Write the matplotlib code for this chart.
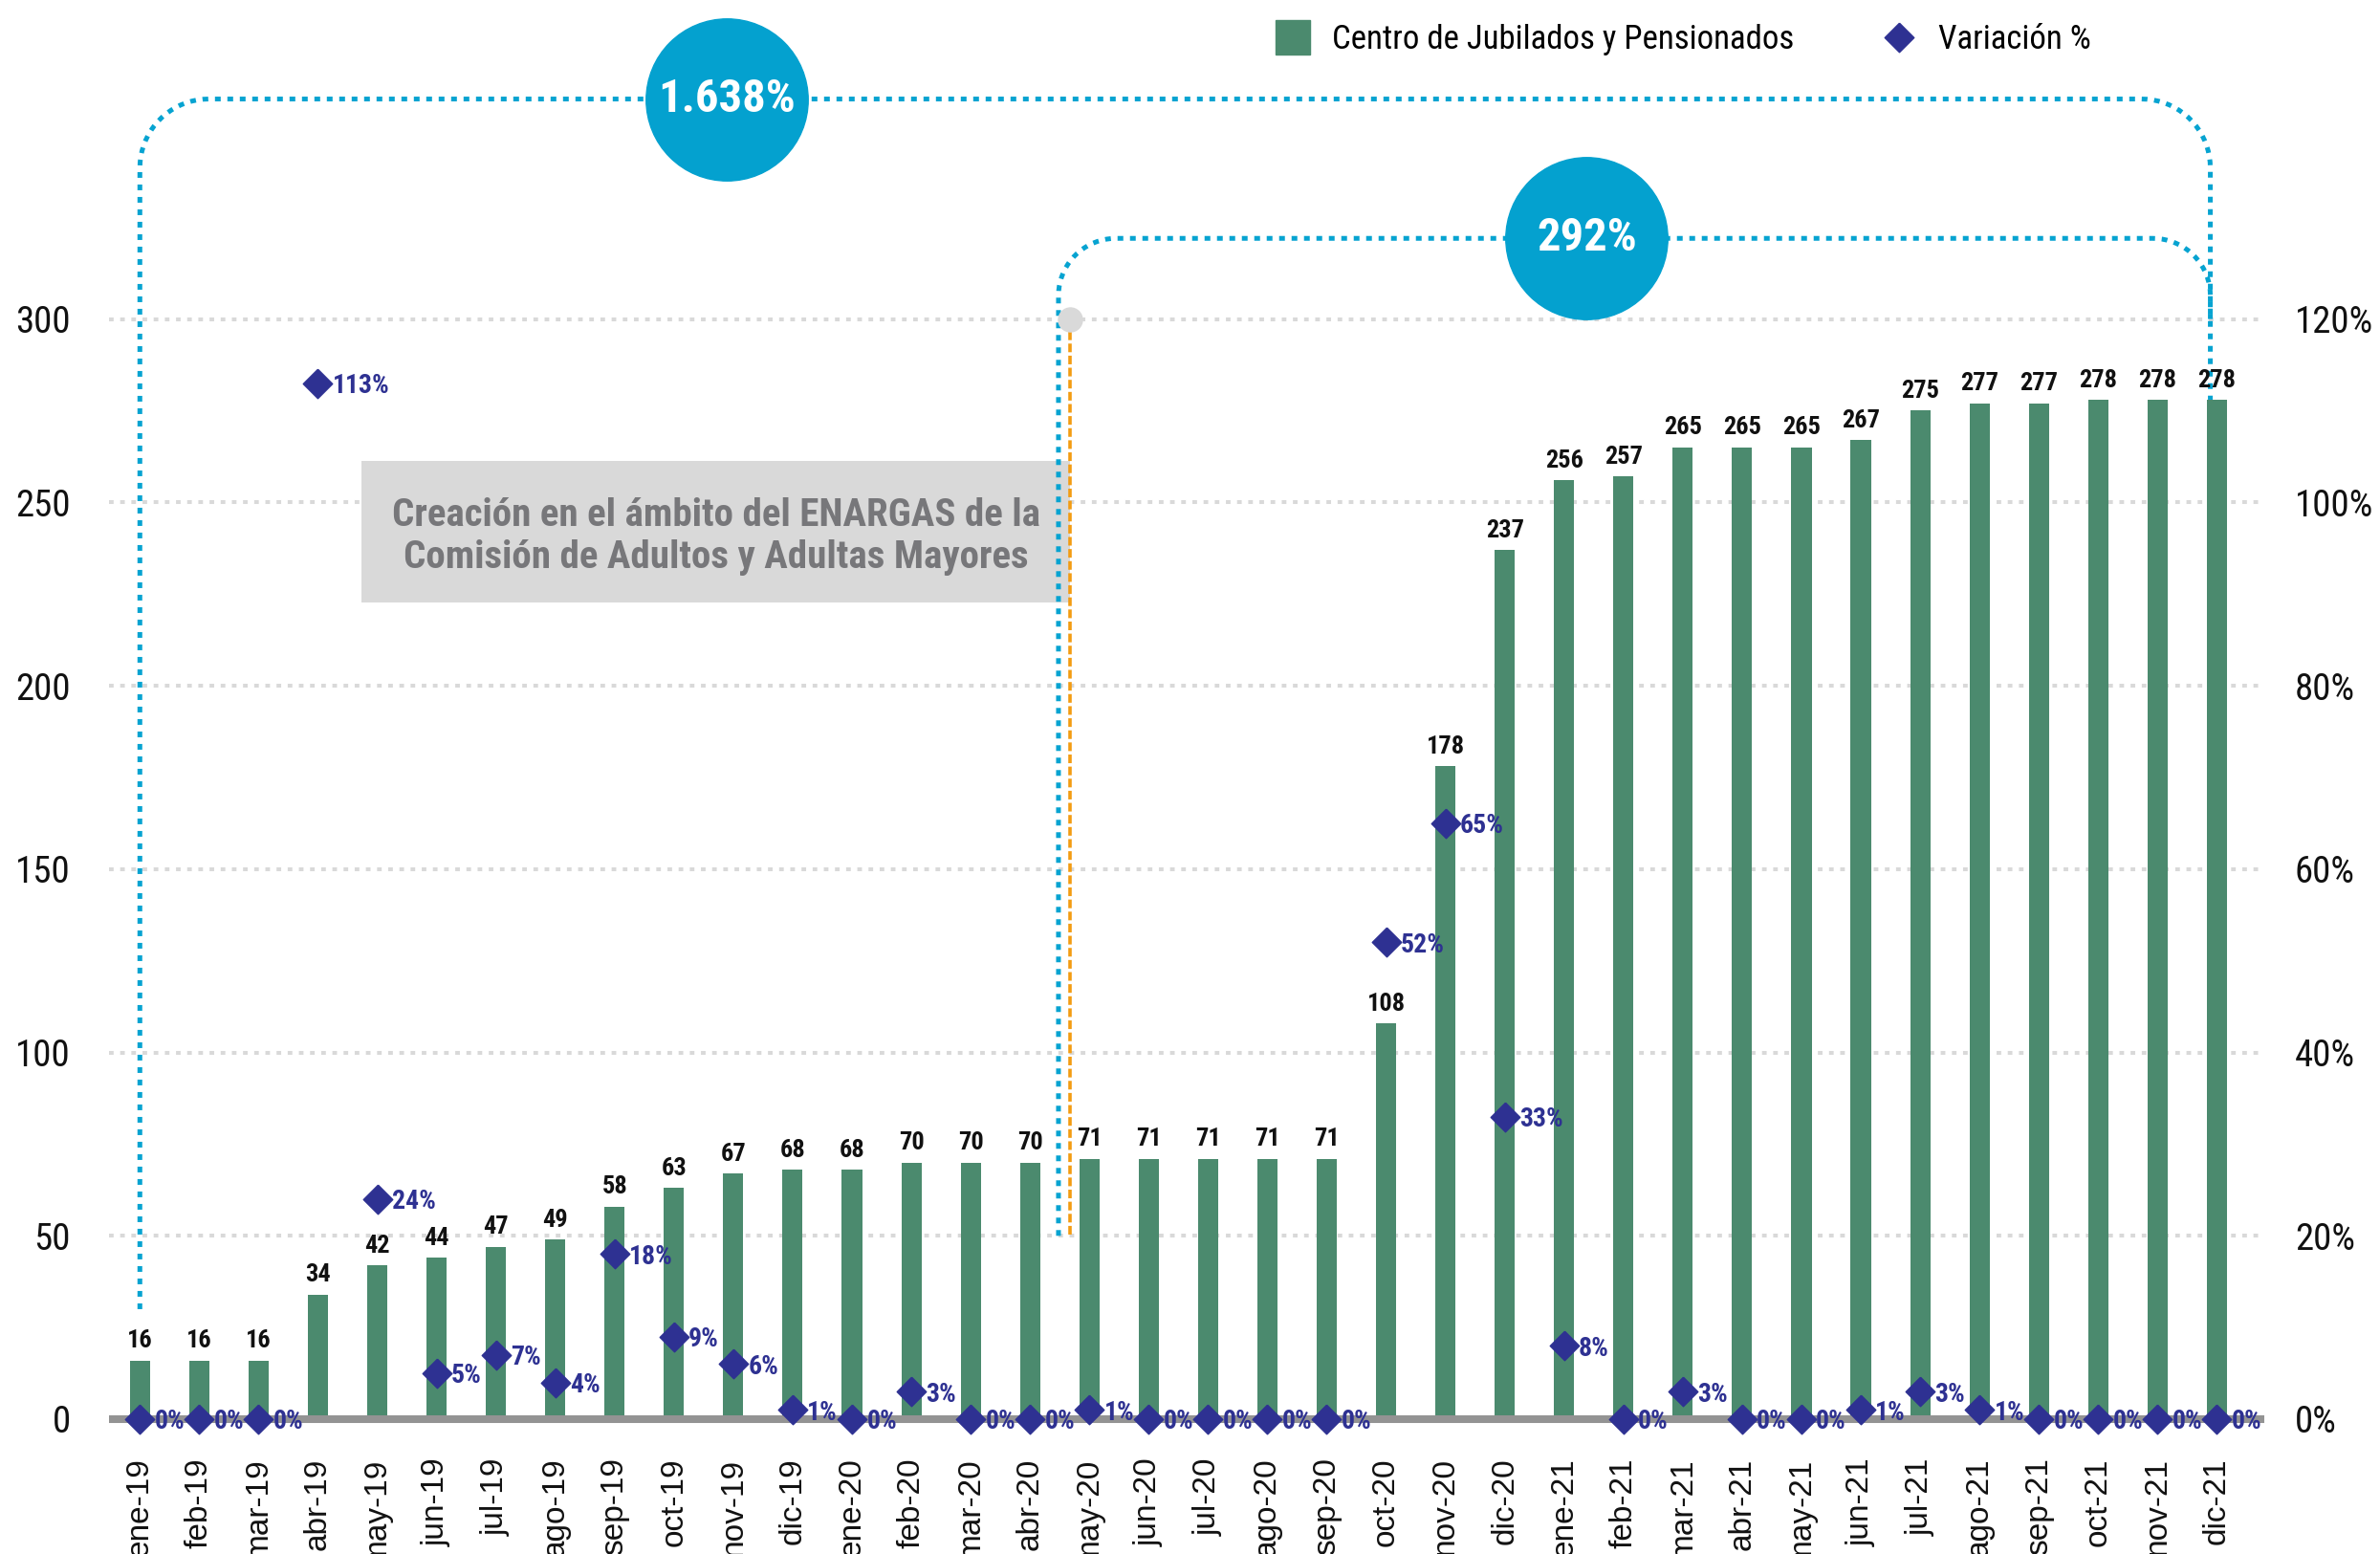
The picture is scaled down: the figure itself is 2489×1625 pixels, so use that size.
import numpy as np
import matplotlib
matplotlib.use("Agg")
import matplotlib.pyplot as plt
from matplotlib.lines import Line2D
from matplotlib.patches import Rectangle

# data
months = ['ene-19', 'feb-19', 'mar-19', 'abr-19', 'may-19', 'jun-19', 'jul-19', 'ago-19',
          'sep-19', 'oct-19', 'nov-19', 'dic-19', 'ene-20', 'feb-20', 'mar-20', 'abr-20',
          'may-20', 'jun-20', 'jul-20', 'ago-20', 'sep-20', 'oct-20', 'nov-20', 'dic-20',
          'ene-21', 'feb-21', 'mar-21', 'abr-21', 'may-21', 'jun-21', 'jul-21', 'ago-21',
          'sep-21', 'oct-21', 'nov-21', 'dic-21']
centros = [16, 16, 16, 34, 42, 44, 47, 49, 58, 63, 67, 68, 68, 70, 70, 70, 71, 71,
           71, 71, 71, 108, 178, 237, 256, 257, 265, 265, 265, 267, 275, 277, 277,
           278, 278, 278]
variacion = [0, 0, 0, 113, 24, 5, 7, 4, 18, 9, 6, 1, 0, 3, 0, 0, 1, 0, 0, 0, 0, 52, 65,
             33, 8, 0, 3, 0, 0, 1, 3, 1, 0, 0, 0, 0]
left_ticks = [0, 50, 100, 150, 200, 250, 300]
right_ticks = [0, 20, 40, 60, 80, 100, 120]
total_label = '1.638%'
recent_label = '292%'
note = 'Creación en el ámbito del ENARGAS de la\nComisión de Adultos y Adultas Mayores'

GREEN = '#4B8A6E'
NAVY = '#2E3192'
CYAN = '#06A3D1'
narrow = ['Roboto Condensed', 'Liberation Sans Narrow', 'Roboto', 'DejaVu Sans']

fig = plt.figure(figsize=(24.89, 16.25), dpi=100)
ax = fig.add_axes([0.0458, 0.0679, 0.9056, 0.9321])
ymin, ymax = -8, 387
ax.set_ylim(ymin, ymax)
ax.set_xlim(-0.52, 35.8)
x = np.arange(len(months))

# grid + baseline
for v in left_ticks[1:]:
    ax.axhline(v, color='#D9D9D9', lw=2.9, ls=(0, (1.2, 1.7)), zorder=1)
ax.axhline(0, color='#939393', lw=5.8, zorder=3)

bars = ax.bar(x, centros, width=0.34, color=GREEN, zorder=2)
for xi, v in zip(x, centros):
    ax.annotate(str(v), (xi, v), xytext=(0, 6), textcoords='offset points',
                ha='center', va='bottom', fontsize=19, fontweight='bold',
                family=narrow, color='#111111', zorder=5)

# note box
ax.add_patch(Rectangle((3.74, 222.6), 11.94, 38.8, facecolor='#D9D9D9',
                       edgecolor='none', zorder=3))
ax.text(9.71, 240.8, note, ha='center', va='center', fontsize=29.5, fontweight='bold',
        family=narrow, color='#77777A', linespacing=1.2, zorder=4)

# brackets
def bracket(x0, x1, ytop, yleft, yright, rx, ry):
    t1 = np.linspace(np.pi, np.pi / 2, 20)
    t2 = np.linspace(np.pi / 2, 0, 20)
    xs = np.concatenate([[x0], x0 + rx + rx * np.cos(t1), x1 - rx + rx * np.cos(t2), [x1]])
    ys = np.concatenate([[yleft], ytop - ry + ry * np.sin(t1), ytop - ry + ry * np.sin(t2), [yright]])
    ax.plot(xs, ys, color=CYAN, lw=3.6, ls=(0, (1.2, 1.4)), zorder=4)

bracket(0, 34.89, 360, 30, 278, 1.16, 18.8)
bracket(15.48, 34.89, 322, 50, 300, 0.97, 15.6)

ax.plot([15.68, 15.68], [300, 50], color='#F39C12', lw=2.6, ls=(0, (2.5, 1)), zorder=4)
ax.plot([15.68], [300], 'o', ms=18, color='#D9D9D9', zorder=5)

for bx, by, lab in [(9.89, 360, total_label), (24.38, 322, recent_label)]:
    ax.plot([bx], [by], 'o', ms=122, color='#04A1CF', zorder=6)
    ax.text(bx, by, lab, ha='center', va='center', fontsize=35, fontweight='bold',
            family=narrow, color='white', zorder=7)

# axes styling
ax.set_yticks(left_ticks)
ax.set_yticklabels([str(v) for v in left_ticks], family=narrow, fontsize=28)
ax.set_xticks(x)
ax.set_xticklabels(months, rotation=90, fontsize=24, family=['Liberation Sans', 'DejaVu Sans'])
ax.tick_params(axis='y', length=0, pad=29, colors='#111111')
ax.tick_params(axis='x', length=0, pad=7, colors='#111111')
for s in ax.spines.values():
    s.set_visible(False)

# percentage axis
ax2 = ax.twinx()
ax2.set_ylim(ymin / 2.5, ymax / 2.5)
diamond = [(0, 1), (1, 0), (0, -1), (-1, 0), (0, 1)]
ax2.plot(x, variacion, ls='none', marker=diamond, ms=22, color=NAVY, zorder=5)
for xi, v in zip(x, variacion):
    ax2.annotate(f'{v}%', (xi, v), xytext=(11, -2), textcoords='offset points',
                 ha='left', va='center', fontsize=20, fontweight='bold',
                 family=narrow, color=NAVY)
ax2.set_yticks(right_ticks)
ax2.set_yticklabels([f'{v}%' for v in right_ticks], family=narrow, fontsize=28)
ax2.tick_params(axis='y', length=0, pad=23, colors='#111111')
for s in ax2.spines.values():
    s.set_visible(False)

handles = [Line2D([], [], ls='none', marker='s', ms=26, color=GREEN),
           Line2D([], [], ls='none', marker=diamond, ms=22, color=NAVY)]
fig.legend(handles, ['Centro de Jubilados y Pensionados', 'Variación %'],
           loc='upper left', bbox_to_anchor=(0.5288, 0.995), ncol=2, frameon=False,
           prop={'family': narrow, 'size': 25}, borderpad=0, handlelength=1.05,
           handletextpad=0.65, columnspacing=2.65)

fig.savefig('out.png', dpi=100)
